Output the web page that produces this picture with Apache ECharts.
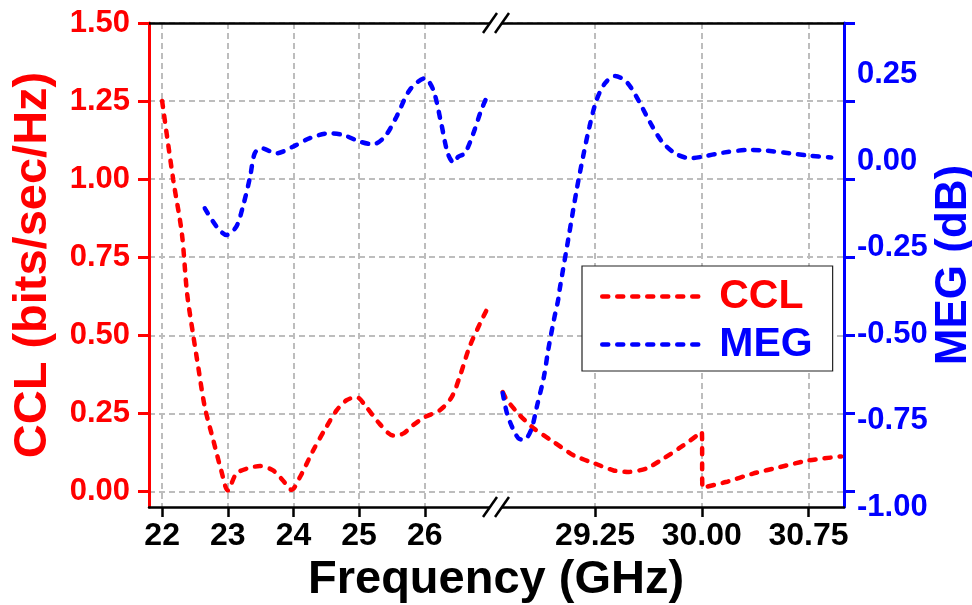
<!DOCTYPE html>
<html>
<head>
<meta charset="utf-8">
<script src="https://cdn.jsdelivr.net/npm/echarts@6/dist/echarts.min.js"></script>
<style>
  html, body { margin: 0; padding: 0; background: #fff; }
  #chart { width: 972px; height: 605px; }
</style>
</head>
<body>
<div id="chart"></div>
<script>
// ---- data (frequency in GHz) ----
const cclTicks = [0, 0.25, 0.5, 0.75, 1.0, 1.25, 1.5];
const megTicks = [-1.0, -0.75, -0.5, -0.25, 0.0, 0.25];
const xTicksLeft = [22, 23, 24, 25, 26];
const xTicksRight = [29.25, 30.0, 30.75];

const cclLeft = [
  [22.0, 1.25], [22.17, 0.997], [22.30, 0.827], [22.38, 0.634], [22.47, 0.505],
  [22.55, 0.398], [22.65, 0.27], [22.78, 0.163], [22.90, 0.067], [23.0, 0.003],
  [23.13, 0.057], [23.29, 0.073], [23.49, 0.081], [23.69, 0.067], [23.84, 0.035],
  [23.97, 0.005], [24.10, 0.046], [24.30, 0.131], [24.50, 0.206], [24.66, 0.26],
  [24.81, 0.292], [24.96, 0.302], [25.11, 0.27], [25.31, 0.217], [25.52, 0.179],
  [25.67, 0.185], [25.82, 0.212], [26.0, 0.238], [26.23, 0.26], [26.41, 0.302],
  [26.53, 0.366], [26.68, 0.462], [26.84, 0.537], [26.94, 0.58]
];
const megLeft = [
  [22.65, -0.136], [22.83, -0.189], [22.98, -0.213], [23.13, -0.189], [23.23, -0.131],
  [23.34, -0.045], [23.41, 0.023], [23.51, 0.038], [23.74, 0.023], [23.99, 0.042],
  [24.25, 0.067], [24.55, 0.081], [24.76, 0.076], [25.01, 0.057], [25.21, 0.049],
  [25.39, 0.071], [25.57, 0.129], [25.77, 0.206], [26.0, 0.240], [26.13, 0.206],
  [26.25, 0.110], [26.35, 0.023], [26.44, -0.004], [26.51, 0.013], [26.61, 0.023],
  [26.74, 0.081], [26.86, 0.148], [26.96, 0.192]
];
const cclRight = [
  [28.60, 0.318], [28.63, 0.292], [28.72, 0.244], [28.82, 0.201], [28.96, 0.158],
  [29.10, 0.115], [29.25, 0.089], [29.38, 0.067], [29.48, 0.062], [29.61, 0.073],
  [29.73, 0.105], [29.87, 0.147], [30.0, 0.19], [30.005, 0.012], [30.17, 0.03],
  [30.36, 0.057], [30.55, 0.078], [30.75, 0.099], [30.98, 0.112]
];
const megRight = [
  [28.60, -0.670], [28.63, -0.729], [28.67, -0.772], [28.71, -0.801], [28.75, -0.806],
  [28.80, -0.777], [28.84, -0.710], [28.89, -0.623], [28.92, -0.546], [28.96, -0.459],
  [28.99, -0.401], [29.00, -0.372], [29.06, -0.228], [29.12, -0.083], [29.17, 0.023],
  [29.21, 0.100], [29.26, 0.177], [29.32, 0.226], [29.39, 0.247], [29.47, 0.230],
  [29.54, 0.187], [29.64, 0.110], [29.72, 0.057], [29.82, 0.021], [29.92, 0.009],
  [30.0, 0.013], [30.15, 0.025], [30.34, 0.033], [30.45, 0.031], [30.62, 0.023],
  [30.76, 0.016], [30.91, 0.011]
];

const RED = '#ff0000', BLUE = '#0000ff', BLACK = '#000000';
const FONT = 'Liberation Sans';
const gridLine = { show: true, lineStyle: { color: '#bdbdbd', type: [6, 4], width: 2 } };
const dashed = (c) => ({ color: c, width: 4.5, type: [6, 9], cap: 'round' });
const tickFont = { fontFamily: FONT, fontWeight: 'bold' };

const chart = echarts.init(document.getElementById('chart'), null, { renderer: 'canvas' });
const option = {
  animation: false,
  backgroundColor: '#ffffff',
  title: {
    text: 'Frequency (GHz)', left: 308, top: 557, padding: 0,
    textStyle: { fontFamily: FONT, fontWeight: 'bold', fontSize: 47, color: BLACK }
  },
  legend: {
    orient: 'vertical', left: 582, top: 266,
    padding: [10, 20, 6, 18], itemGap: 7, itemWidth: 102, itemHeight: 1,
    backgroundColor: '#ffffff', borderColor: '#222', borderWidth: 1.2, borderRadius: 0,
    itemStyle: { opacity: 0 },
    lineStyle: { width: 4.5, type: [6, 9], cap: 'round' },
    textStyle: { fontFamily: FONT, fontWeight: 'bold', fontSize: 41, padding: [0, 0, 0, 10] },
    data: [
      { name: 'CCL', textStyle: { color: RED } },
      { name: 'MEG', textStyle: { color: BLUE } }
    ]
  },
  grid: [
    { left: 149, top: 23, width: 348, height: 484, outerBoundsMode: 'none' },
    { left: 497, top: 23, width: 347, height: 484, outerBoundsMode: 'none' }
  ],
  xAxis: [
    { gridIndex: 0, type: 'value', position: 'bottom', min: 21.8, max: 27.1,
      axisLine: { onZero: false, lineStyle: { color: BLACK, width: 2.5 } },
      axisTick: { customValues: xTicksLeft, length: 10, lineStyle: { color: BLACK, width: 2.5 } },
      axisLabel: { customValues: xTicksLeft, margin: 13, color: BLACK, ...tickFont, fontSize: 32,
        formatter: (v) => String(v) },
      splitLine: gridLine },
    { gridIndex: 1, type: 'value', position: 'bottom', min: 28.56, max: 31.0,
      axisLine: { onZero: false, lineStyle: { color: BLACK, width: 2.5 } },
      axisTick: { customValues: xTicksRight, length: 10, lineStyle: { color: BLACK, width: 2.5 } },
      axisLabel: { customValues: xTicksRight, margin: 13, color: BLACK, ...tickFont, fontSize: 32,
        formatter: (v) => v.toFixed(2) },
      splitLine: gridLine },
    { gridIndex: 0, type: 'value', position: 'top', min: 21.8, max: 27.1,
      axisLine: { onZero: false, lineStyle: { color: BLACK, width: 2.5 } }, axisTick: { show: false },
      axisLabel: { show: false }, splitLine: { show: false } },
    { gridIndex: 1, type: 'value', position: 'top', min: 28.56, max: 31.0,
      axisLine: { onZero: false, lineStyle: { color: BLACK, width: 2.5 } }, axisTick: { show: false },
      axisLabel: { show: false }, splitLine: { show: false } }
  ],
  yAxis: [
    // 0: CCL axis, left grid (visible, red)
    { gridIndex: 0, type: 'value', position: 'left', min: -0.05, max: 1.5,
      name: 'CCL (bits/sec/Hz)', nameLocation: 'middle', nameRotate: 90, nameGap: 92,
      nameTextStyle: { color: RED, fontFamily: FONT, fontWeight: 'bold', fontSize: 47 },
      axisLine: { show: true, onZero: false, lineStyle: { color: RED, width: 3 } },
      axisTick: { show: true, customValues: cclTicks, length: 11, lineStyle: { color: RED, width: 3 } },
      axisLabel: { customValues: cclTicks, margin: 19, color: RED, ...tickFont, fontSize: 31,
        formatter: (v) => v.toFixed(2) },
      splitLine: gridLine },
    // 1: MEG axis, left grid (hidden)
    { gridIndex: 0, type: 'value', position: 'right', min: -1.0, max: 0.4, show: false },
    // 2: CCL-scale axis, right grid (blue line + ticks, gridlines)
    { gridIndex: 1, type: 'value', position: 'right', min: -0.05, max: 1.5,
      axisLine: { show: true, onZero: false, lineStyle: { color: BLUE, width: 3 } },
      axisTick: { show: true, customValues: cclTicks, length: 11, lineStyle: { color: BLUE, width: 3 } },
      axisLabel: { show: false },
      splitLine: gridLine },
    // 3: MEG axis, right grid (labels + name)
    { gridIndex: 1, type: 'value', position: 'right', min: -1.0, max: 0.4,
      name: 'MEG (dB)', nameLocation: 'middle', nameRotate: 90, nameGap: 79,
      nameTextStyle: { color: BLUE, fontFamily: FONT, fontWeight: 'bold', fontSize: 44 },
      axisLine: { show: false, onZero: false }, axisTick: { show: false },
      axisLabel: { customValues: megTicks, margin: 13, color: BLUE, ...tickFont, fontSize: 31,
        formatter: (v) => v.toFixed(2) },
      splitLine: { show: false } }
  ],
  series: [
    { name: 'CCL', type: 'line', xAxisIndex: 0, yAxisIndex: 0, data: cclLeft, smooth: 0.3,
      symbol: 'none', lineStyle: dashed(RED), itemStyle: { color: RED }, z: 3 },
    { name: 'MEG', type: 'line', xAxisIndex: 0, yAxisIndex: 1, data: megLeft, smooth: 0.3,
      symbol: 'none', lineStyle: dashed(BLUE), itemStyle: { color: BLUE }, z: 3 },
    { name: 'CCL', type: 'line', xAxisIndex: 1, yAxisIndex: 2, data: cclRight, smooth: 0.2,
      symbol: 'none', lineStyle: dashed(RED), itemStyle: { color: RED }, z: 3 },
    { name: 'MEG', type: 'line', xAxisIndex: 1, yAxisIndex: 3, data: megRight, smooth: 0.3,
      symbol: 'none', lineStyle: dashed(BLUE), itemStyle: { color: BLUE }, z: 3 }
  ],
  graphic: [
    // axis-break marks (decoration)
    { type: 'rect', shape: { x: 490, y: 20, width: 12, height: 6 }, style: { fill: '#fff' }, z: 100 },
    { type: 'rect', shape: { x: 490, y: 504, width: 12, height: 6 }, style: { fill: '#fff' }, z: 100 },
    { type: 'line', shape: { x1: 483, y1: 33, x2: 497, y2: 13 }, style: { stroke: BLACK, lineWidth: 2.5 }, z: 101 },
    { type: 'line', shape: { x1: 495, y1: 33, x2: 509, y2: 13 }, style: { stroke: BLACK, lineWidth: 2.5 }, z: 101 },
    { type: 'line', shape: { x1: 483, y1: 517, x2: 497, y2: 497 }, style: { stroke: BLACK, lineWidth: 2.5 }, z: 101 },
    { type: 'line', shape: { x1: 495, y1: 517, x2: 509, y2: 497 }, style: { stroke: BLACK, lineWidth: 2.5 }, z: 101 }
  ]
};
chart.setOption(option);
</script>
</body>
</html>
